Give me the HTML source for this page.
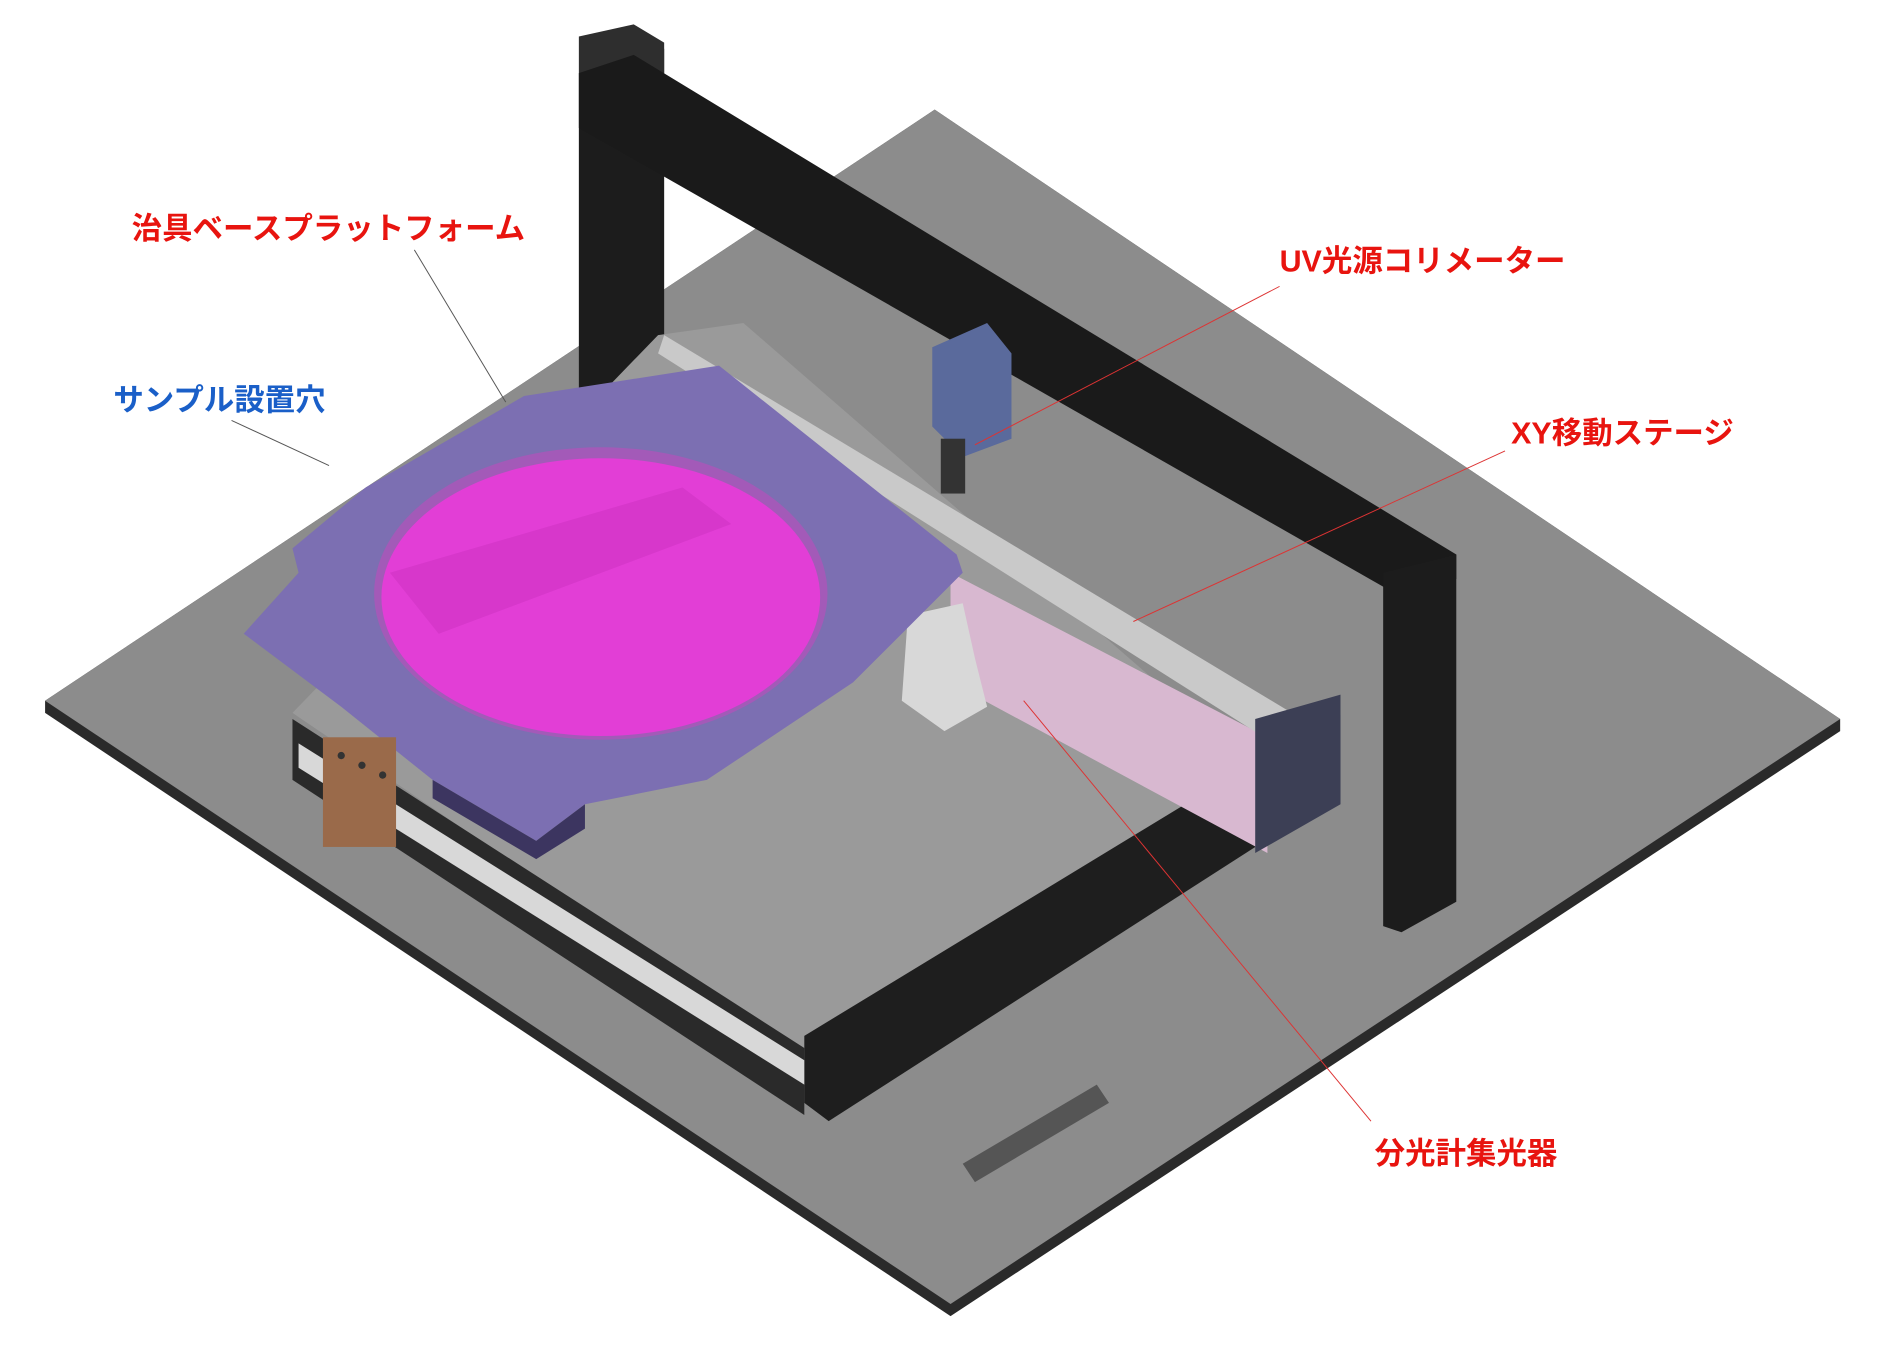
<!DOCTYPE html>
<html><head><meta charset="utf-8"><style>
html,body{margin:0;padding:0;background:#fff;}
svg{display:block;}
text{font-family:"Liberation Sans","Noto Sans CJK JP",sans-serif;font-size:25px;font-weight:bold;}
</style></head><body>
<svg width="1895" height="1360" viewBox="0 0 1555 1116" preserveAspectRatio="none" xmlns="http://www.w3.org/2000/svg">
<rect width="1555" height="1116" fill="#fff"/>
<polygon points="37,575 767,90 1510,590 1510,600 780,1080 37,585" fill="#2a2a2a"/>
<polygon points="37,575 767,90 1510,590 780,1070" fill="#8c8c8c"/>
<polygon points="475,60 545,40 545,370 520,380 490,360 475,340" fill="#1c1c1c"/>
<polygon points="475,30 520,20 545,35 545,60 500,75 475,60" fill="#2e2e2e"/>
<polygon points="240,585 660,870 1030,630 610,265 540,275" fill="#9a9a9a"/>
<polygon points="660,850 1030,625 1030,695 680,920 660,905" fill="#1e1e1e"/>
<polygon points="240,590 660,860 660,915 240,640" fill="#2a2a2a"/>
<polygon points="245,610 660,870 660,890 245,630" fill="#d8d8d8"/>
<polygon points="780,470 1040,605 1040,700 780,560" fill="#d8b8d0"/>
<polygon points="545,275 1060,585 1045,610 540,290" fill="#c9c9c9"/>
<polygon points="1030,590 1100,570 1100,660 1030,700" fill="#3c3f55"/>
<polygon points="475,60 520,45 1195,455 1195,475 1150,490 475,105" fill="#1a1a1a"/>
<polygon points="1135,470 1195,455 1195,740 1150,765 1135,760" fill="#1c1c1c"/>
<polygon points="765,285 810,265 830,290 830,360 790,375 765,350" fill="#5a6a9c"/>
<rect x="772" y="360" width="20" height="45" fill="#333"/>
<polygon points="745,505 790,495 800,540 810,580 775,600 740,575" fill="#d8d8d8"/>
<polygon points="200,520 245,470 240,450 300,400 430,325 590,300 785,455 790,470 700,560 580,640 480,660 440,690 355,640 280,580" fill="#7c6fb2"/>
<polygon points="355,640 440,690 480,660 480,680 440,705 355,655" fill="#3c3560"/>
<ellipse cx="493" cy="487" rx="186" ry="120" fill="#a35ab8"/>
<ellipse cx="493" cy="490" rx="180" ry="114" fill="#e23ed6"/>
<polygon points="320,470 560,400 600,430 360,520" fill="#cc30c0" opacity="0.5"/>
<rect x="265" y="605" width="60" height="90" fill="#9a6a4a"/>
<g fill="#333"><circle cx="280" cy="620" r="3"/><circle cx="297" cy="628" r="3"/><circle cx="314" cy="636" r="3"/></g>
<polygon points="790,955 900,890 910,905 800,970" fill="#555"/>
<g stroke-width="0.8" fill="none">
<line x1="340" y1="205" x2="415" y2="330" stroke="#555"/>
<line x1="190" y1="345" x2="270" y2="382" stroke="#555"/>
<line x1="1050" y1="235" x2="800" y2="365" stroke="#d33"/>
<line x1="1235" y1="370" x2="930" y2="510" stroke="#d33"/>
<line x1="1125" y1="920" x2="840" y2="575" stroke="#d33"/>
</g>
<text x="108" y="196" fill="#e8140f">治具ベースプラットフォーム</text>
<text x="93" y="337" fill="#1a5fc8">サンプル設置穴</text>
<text x="1050" y="223" fill="#e8140f">UV光源コリメーター</text>
<text x="1240" y="364" fill="#e8140f">XY移動ステージ</text>
<text x="1128" y="955" fill="#e8140f">分光計集光器</text>
</svg>
</body></html>
